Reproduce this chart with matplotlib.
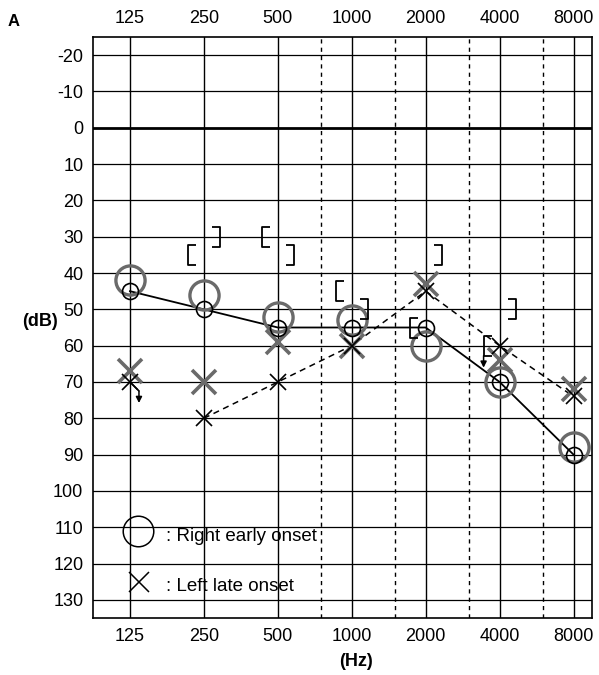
import numpy as np
import matplotlib
matplotlib.use('Agg')
import matplotlib.pyplot as plt
from matplotlib.path import Path
from matplotlib.transforms import offset_copy

plt.rcParams['font.family'] = ['Liberation Sans', 'DejaVu Sans']

# ---------------- data ----------------
freqs = [125, 250, 500, 1000, 2000, 4000, 8000]
freq_labels = ['125', '250', '500', '1000', '2000', '4000', '8000']
half_octaves = [750, 1500, 3000, 6000]
db_ticks = list(range(-20, 131, 10))

# right ear air conduction (small circles, solid line)
right_ac = [45, 50, 55, 55, 55, 70, 90]
# right early onset (large gray circles)
right_early = [42, 46, 52, 53, 60, 70, 88]
# left ear air conduction (small X, dashed line); 125 Hz = no response
left_ac = [70, 80, 70, 60, 45, 60, 74]
# left late onset (large gray X)
left_late = [67, 70, 59, 60, 43, 64, 72]
# masked bone conduction
right_bc_freqs = [250, 500, 1000, 2000, 4000]
right_bc = [35, 30, 45, 55, 60]
left_bc_freqs = [250, 500, 1000, 2000, 4000]
left_bc = [30, 35, 50, 35, 50]

# ---------------- figure ----------------
W, H = 599, 675
fig = plt.figure(figsize=(W / 100, H / 100), dpi=100)
L, R, T, B = 93, 592, 37, 618
ax = fig.add_axes([L / W, (H - B) / H, (R - L) / W, (B - T) / H])

ax.set_xscale('log', base=2)
ax.set_xlim(125 * 2 ** (-0.5), 8000 * 2 ** 0.25)
ax.set_ylim(135, -25)

# grid
for d in db_ticks:
    ax.axhline(d, color='black', lw=2.0 if d == 0 else 0.9, zorder=1)
for f in freqs:
    ax.axvline(f, color='black', lw=1.0, zorder=1)
for f in half_octaves:
    ax.axvline(f, color='black', lw=1.0, ls=(0, (3, 3)), zorder=1)

for s in ax.spines.values():
    s.set_linewidth(1.2)

ax.set_xticks(freqs)
ax.set_xticklabels(freq_labels)
ax.xaxis.set_minor_locator(matplotlib.ticker.NullLocator())
ax.set_yticks(db_ticks)
ax.set_yticklabels([str(d) for d in db_ticks])
ax.tick_params(axis='x', top=True, labeltop=True, bottom=True, labelbottom=True,
               length=0, pad=7, labelsize=13)
ax.tick_params(axis='y', length=0, pad=7, labelsize=13)

gray = '#6a6a6a'

# lines
ax.plot(freqs, right_ac, color='black', lw=1.3, zorder=3)
ax.plot(freqs[1:], left_ac[1:], color='black', lw=1.1, ls=(0, (4, 3)), zorder=3)

# large gray markers
ax.plot(freqs, right_early, ls='none', marker='o', ms=21, mfc='none',
        mec=gray, mew=2.4, zorder=4)
ax.plot(freqs, left_late, ls='none', marker='x', ms=17, mec=gray, mew=2.6, zorder=4)

# small black markers
ax.plot(freqs, right_ac, ls='none', marker='o', ms=11.5, mfc='none',
        mec='black', mew=1.2, zorder=5)
ax.plot(freqs, left_ac, ls='none', marker='x', ms=11, mec='black', mew=1.2, zorder=5)

# bracket markers (masked bone conduction)
lb = Path([(-8, 10), (-16, 10), (-16, -10), (-8, -10)],
          [Path.MOVETO, Path.LINETO, Path.LINETO, Path.LINETO])
rb = Path([(8, 10), (16, 10), (16, -10), (8, -10)],
          [Path.MOVETO, Path.LINETO, Path.LINETO, Path.LINETO])
ax.plot(right_bc_freqs, right_bc, ls='none', marker=lb, ms=23, mfc='none',
        mec='black', mew=1.3, zorder=5)
ax.plot(left_bc_freqs, left_bc, ls='none', marker=rb, ms=23, mfc='none',
        mec='black', mew=1.3, zorder=5)

# no-response arrows
def arrow(xd, yd, p0, p1, p2):
    t0 = offset_copy(ax.transData, fig=fig, x=p0[0], y=p0[1], units='dots')
    t1 = offset_copy(ax.transData, fig=fig, x=p1[0], y=p1[1], units='dots')
    t2 = offset_copy(ax.transData, fig=fig, x=p2[0], y=p2[1], units='dots')
    if p0 != p1:
        ax.annotate('', xy=(xd, yd), xycoords=t1, xytext=(xd, yd), textcoords=t0,
                    arrowprops=dict(arrowstyle='-', color='black', lw=1.1,
                                    shrinkA=0, shrinkB=0), zorder=6)
    ax.annotate('', xy=(xd, yd), xycoords=t2, xytext=(xd, yd), textcoords=t1,
                arrowprops=dict(arrowstyle='-|>,head_length=0.35,head_width=0.18',
                                color='black', lw=1.1, shrinkA=0, shrinkB=0), zorder=6)

arrow(freqs[0], left_ac[0], (0, 0), (9, -9), (9, -21))
arrow(right_bc_freqs[-1], right_bc[-1], (-16, -10), (-16, -10), (-16, -22))

# legend
ax.plot([0.09], [0.15], transform=ax.transAxes, marker='o', ms=22, mfc='none',
        mec='black', mew=1.1, ls='none', zorder=6, clip_on=False)
ax.plot([0.092], [0.0625], transform=ax.transAxes, marker='x', ms=14,
        mec='black', mew=1.1, ls='none', zorder=6, clip_on=False)
ax.text(0.146, 0.140, ': Right early onset', transform=ax.transAxes,
        fontsize=13.5, va='center', ha='left', zorder=6)
ax.text(0.146, 0.054, ': Left late onset', transform=ax.transAxes,
        fontsize=13.5, va='center', ha='left', zorder=6)

# labels
fig.text(40 / W, 1 - 322 / H, '(dB)', fontsize=13, fontweight='bold',
         ha='center', va='center')
fig.text(356 / W, 1 - 662 / H, '(Hz)', fontsize=13, fontweight='bold',
         ha='center', va='center')
fig.text(14 / W, 1 - 21 / H, 'A', fontsize=12, fontweight='bold',
         ha='center', va='center')

fig.savefig('out.png', dpi=100)
